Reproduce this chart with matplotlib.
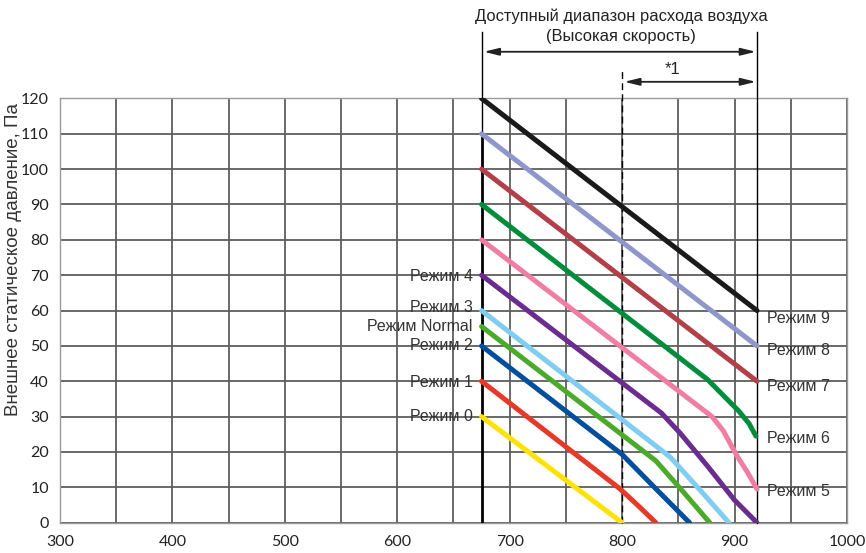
import numpy as np
import matplotlib.pyplot as plt
from matplotlib.ticker import MultipleLocator

plt.rcParams['font.family'] = ['Liberation Sans', 'DejaVu Sans']

# Кривые режимов: (x, y) — расход воздуха, статическое давление
modes = ["Режим 9", "Режим 8", "Режим 7", "Режим 6", "Режим 5",
         "Режим 4", "Режим 3", "Режим Normal", "Режим 2", "Режим 1", "Режим 0"]
colors = ["#1a1a1a", "#8f96cc", "#b33f48", "#008d3c", "#f07ea3",
          "#6b2b8f", "#7fcdf0", "#4aab2b", "#004f9f", "#e73828", "#ffe200"]
curve_x = [
    [675, 920],
    [675, 920],
    [675, 920],
    [675, 876, 890, 904, 913, 919],
    [675, 880, 890, 902, 912, 920],
    [675, 835, 852, 876, 900, 920],
    [675, 843, 870, 895],
    [675, 830, 855, 878],
    [675, 800, 830, 860],
    [675, 798, 815, 830],
    [675, 800],
]
curve_y = [
    [120, 60],
    [110, 50],
    [100, 40],
    [90, 40.5, 36, 31.5, 28, 24.5],
    [80, 30, 26, 19, 14, 9.5],
    [70, 31, 25.2, 16, 6.4, 0],
    [60, 18.5, 9, 0],
    [55.5, 17.5, 8.5, 0],
    [50, 19.3, 9.6, 0],
    [40, 9.6, 4.6, 0],
    [30, 0],
]

# подписи слева и справа
left_labels = ["Режим 4", "Режим 3", "Режим Normal", "Режим 2", "Режим 1", "Режим 0"]
left_label_y = [69.7, 61, 55.5, 50.2, 39.7, 30]
right_labels = ["Режим 9", "Режим 8", "Режим 7", "Режим 6", "Режим 5"]
right_label_y = [57.8, 48.6, 38.6, 23.9, 8.7]

x_min, x_max = 675, 920
x_star = 800

fig = plt.figure(figsize=(8.66, 5.53), dpi=100)
ax = fig.add_axes([0.0693, 0.0548, 0.9087, 0.7672])

ax.set_xlim(300, 1000)
ax.set_ylim(0, 120)
ax.xaxis.set_major_locator(MultipleLocator(100))
ax.xaxis.set_minor_locator(MultipleLocator(50))
ax.yaxis.set_major_locator(MultipleLocator(10))
ax.grid(True, which="both", color="#5e5e5e", linewidth=1.3)
ax.tick_params(which="both", length=0, labelsize=11.5, colors="#222222")
ax.tick_params(axis="x", pad=9)
ax.tick_params(axis="y", pad=8)
for lbl in ax.get_xticklabels() + ax.get_yticklabels():
    lbl.set_fontfamily(["Lato", "DejaVu Sans"])
for s in ax.spines.values():
    s.set_color("#9a9a9a")
    s.set_linewidth(1.0)

ax.text(-0.0597, 0.62, "Внешнее статическое давление, Па", transform=ax.transAxes,
        rotation=90, ha="center", va="center", fontsize=13.5, color="#333333")

for xs, ys, c in zip(curve_x, curve_y, colors):
    ax.plot(xs, ys, color=c, linewidth=3.6, solid_capstyle="round",
            solid_joinstyle="round", zorder=4)

# границы диапазона
ax.plot([x_min, x_min], [0, 110], color="black", linewidth=2, zorder=3)
ax.plot([x_min, x_min], [110, 138.7], color="black", linewidth=1, zorder=3, clip_on=False)
ax.plot([x_max, x_max], [0, 138.7], color="black", linewidth=1, zorder=3, clip_on=False)
ax.plot([x_star, x_star], [0, 128.5], color="black", linewidth=1,
        linestyle=(0, (5, 3)), zorder=3, clip_on=False)

arrow = dict(arrowstyle="<|-|>,head_length=0.9,head_width=0.22", color="#222222",
             linewidth=1.3, shrinkA=0, shrinkB=0)
ax.annotate("", xy=(x_min + 2, 133.2), xytext=(x_max - 1, 133.2),
            arrowprops=arrow, annotation_clip=False)
ax.annotate("", xy=(x_star + 2, 124.7), xytext=(x_max - 1, 124.7),
            arrowprops=arrow, annotation_clip=False)

ax.text(799, 143.3, "Доступный диапазон расхода воздуха", ha="center", va="center",
        fontsize=11.9, color="#222222", clip_on=False)
ax.text(799, 137.6, "(Высокая скорость)", ha="center", va="center",
        fontsize=11.9, color="#222222", clip_on=False)
ax.text(845, 128.3, "*1", ha="center", va="center", fontsize=11.9,
        color="#222222", clip_on=False)

for t, y in zip(left_labels, left_label_y):
    ax.text(667, y, t, ha="right", va="center", fontsize=11.5, color="#333333", zorder=5)
for t, y in zip(right_labels, right_label_y):
    ax.text(928.5, y, t, ha="left", va="center", fontsize=11.5, color="#333333", zorder=5)

fig.savefig("out.png", dpi=100)
